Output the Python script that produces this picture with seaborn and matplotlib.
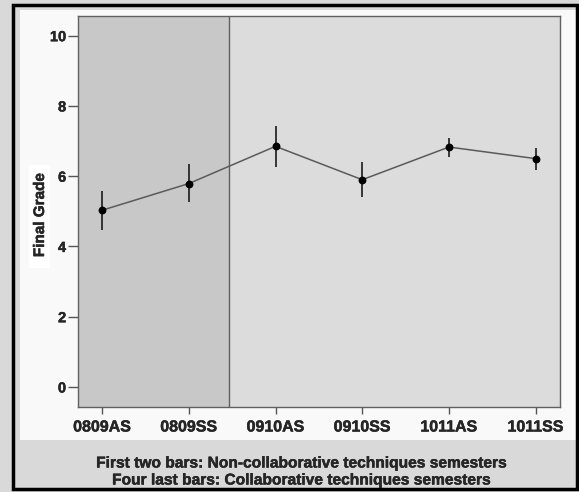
import matplotlib
matplotlib.use("Agg")
import matplotlib.pyplot as plt
import matplotlib.patheffects as pe
from matplotlib.patches import Rectangle
import seaborn as sns
import pandas as pd

semesters = ["0809AS", "0809SS", "0910AS", "0910SS", "1011AS", "1011SS"]
means = [5.03, 5.79, 6.85, 5.90, 6.83, 6.50]
lower = [4.47, 5.26, 6.25, 5.42, 6.56, 6.18]
upper = [5.59, 6.34, 7.44, 6.39, 7.09, 6.81]
yticks = [0, 2, 4, 6, 8, 10]
ylabel = "Final Grade"
note1 = "First two bars: Non-collaborative techniques semesters"
note2 = "Four last bars: Collaborative techniques semesters"

sns.set_style("white")
plt.rcParams["font.family"] = ["Liberation Sans", "DejaVu Sans"]
plt.rcParams["font.weight"] = "bold"

W, H = 579, 492
fig = plt.figure(figsize=(W / 100, H / 100), dpi=100)
fig.patch.set_facecolor("#d9d9d9")
thick = [pe.withStroke(linewidth=0.3, foreground="#111111")]

def fr(x0, y0, x1, y1, **kw):
    fig.patches.append(Rectangle((x0 / W, 1 - y1 / H), (x1 - x0) / W, (y1 - y0) / H,
                                 transform=fig.transFigure, figure=fig, **kw))

# white panel and outer black frame
fr(20, 10, 576, 440, facecolor="#f9f9f9", edgecolor="none", zorder=-2)
fr(29, 165, 50, 268, facecolor="#ffffff", edgecolor="none", zorder=-1)
fr(13, 5, 577, 489, facecolor="none", edgecolor="black", linewidth=2.5, zorder=5)

ax = fig.add_axes([78 / W, 1 - 407 / H, (560 - 78) / W, (407 - 16) / H])
ax.set_facecolor("#dcdcdc")

df = pd.DataFrame({"pos": list(range(len(semesters))), "grade": means})
xmin, xmax = -0.277, 5.28
split = 1.465
ax.axvspan(xmin, split, color="#c8c8c8", zorder=0, linewidth=0)
ax.axvline(split, color="#606060", linewidth=1.0, zorder=1)

ax.vlines(df["pos"], lower, upper, color="#1a1a1a", linewidth=1.2, zorder=3)
sns.lineplot(data=df, x="pos", y="grade", ax=ax, color="#5a5a5a", linewidth=1.1,
             zorder=2)
sns.scatterplot(data=df, x="pos", y="grade", ax=ax, color="black", s=32,
                edgecolor="black", linewidth=0, zorder=4)

ax.set_xlim(xmin, xmax)
ax.set_ylim(-0.57, 10.56)
ax.set_xticks(range(len(semesters)))
ax.set_xticklabels(semesters, fontsize=11.5, fontweight="bold")
ax.set_yticks(yticks)
ax.set_yticklabels([str(t) for t in yticks], fontsize=10.5, fontweight="bold")
ax.tick_params(axis="y", direction="out", length=7, width=1, color="#555555",
               left=True, pad=1.5)
ax.tick_params(axis="x", direction="out", length=5, width=1, color="#555555",
               bottom=True, pad=4)
for lab in ax.get_xticklabels() + ax.get_yticklabels():
    lab.set_path_effects(thick)
ax.set_xlabel("")
ax.set_ylabel("")
for s in ax.spines.values():
    s.set_color("#606060")
    s.set_linewidth(1.0)

fig.text(40 / W, 1 - 215 / H, ylabel, rotation=90, ha="center", va="center",
         fontsize=11, fontweight="bold", path_effects=thick)
fig.text(301 / W, 1 - 463 / H, note1, ha="center", va="center", fontsize=11.2,
         fontweight="bold", path_effects=thick)
fig.text(301 / W, 1 - 480 / H, note2, ha="center", va="center", fontsize=11.2,
         fontweight="bold", path_effects=thick)

fig.savefig("out.png", dpi=100, facecolor=fig.get_facecolor())
